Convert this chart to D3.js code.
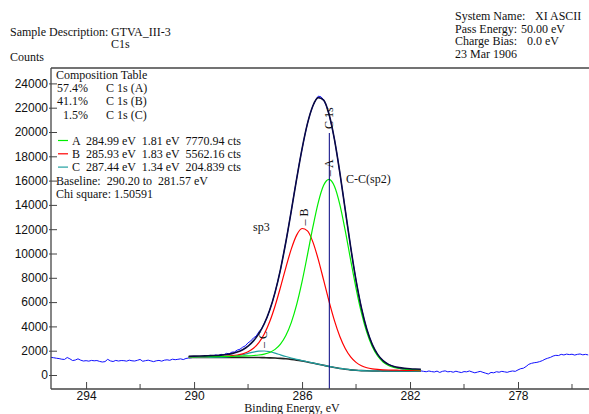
<!DOCTYPE html>
<html>
<head>
<meta charset="utf-8">
<script src="https://cdn.jsdelivr.net/npm/d3@7"></script>
<style>
  body { margin: 0; background: #fff; }
  svg { display: block; font-family: "Liberation Serif", "Times New Roman", serif; font-size: 12px; fill: #111; }
</style>
</head>
<body>
<svg id="chart" width="589" height="414"></svg>
<script>
// raw spectrum, 0.1 eV steps starting at 295.3 eV (binding energy falls to the right)
const rawStart = 295.3;
const rawStep = 0.1;
const rawCounts = [
  1450, 1420, 1380, 1350, 1300, 1280, 1440, 1330, 1190, 1230,
  1330, 1220, 1150, 1180, 1140, 1200, 1170, 1190, 1120, 1070,
  1100, 1290, 1160, 1110, 1200, 1150, 1190, 1180, 1140, 1220,
  1170, 1150, 1210, 1280, 1130, 1180, 1220, 1160, 1100, 1170,
  1200, 1140, 1220, 1250, 1210, 1300, 1260, 1290, 1330, 1270,
  1360, 1400, 1420, 1480, 1440, 1520, 1490, 1560, 1530, 1610,
  1570, 1650, 1600, 1700, 1660, 1780, 1750, 1880, 1900, 2050,
  2120, 2290, 2400, 2650, 2800, 3050, 3200, 3550, 3800, 4250,
  4700, 5330, 6000, 6800, 7700, 8650, 9800, 10950, 12200, 13500,
  14850, 16150, 17450, 18600, 19700, 20700, 21500, 22150, 22600, 22950,
  22900, 22650, 22150, 21450, 20500, 19400, 18100, 16650, 15150, 13600,
  12050, 10550, 9100, 7800, 6600, 5500, 4550, 3750, 3100, 2500,
  2050, 1700, 1400, 1180, 1000, 880, 780, 700, 600, 540,
  500, 470, 430, 420, 380, 390, 350, 340, 300, 270,
  330, 280, 250, 320, 210, 300, 340, 260, 290, 230,
  310, 250, 200, 280, 260, 330, 250, 180, 240, 300,
  220, 150, 80, 210, 180, 270, 230, 300, 260, 220,
  290, 330, 300, 420, 520, 560, 700, 880, 960, 1010,
  1040, 1100, 1180, 1300, 1380, 1450, 1560, 1620, 1600, 1700,
  1650, 1720, 1680, 1710, 1640, 1700, 1730, 1660, 1700, 1650
];

// fitted region, 290.20 to 281.57 eV
const fitEnergy = [
  290.2, 290.0, 289.8, 289.6, 289.4, 289.2, 289.0, 288.8, 288.6, 288.4, 288.2,
  288.0, 287.8, 287.6, 287.4, 287.2, 287.0, 286.8, 286.6, 286.4, 286.2,
  286.0, 285.8, 285.6, 285.4, 285.2, 285.0, 284.8, 284.6, 284.4, 284.2,
  284.0, 283.8, 283.6, 283.4, 283.2, 283.0, 282.8, 282.6, 282.4, 282.2,
  282.0, 281.8, 281.6
];
const baseline = [
  1450, 1450, 1450, 1450, 1450, 1450, 1450, 1450, 1449, 1449, 1448,
  1445, 1442, 1436, 1427, 1413, 1395, 1367, 1332, 1284, 1226,
  1154, 1075, 985, 890, 795, 701, 615, 538, 476, 425,
  388, 361, 344, 333, 327, 323, 321, 321, 320, 320,
  320, 320, 320
];
const peakA = [
  1495, 1499, 1503, 1507, 1512, 1518, 1525, 1532, 1540, 1551, 1564,
  1579, 1604, 1645, 1719, 1856, 2108, 2542, 3248, 4312, 5794,
  7685, 9885, 12162, 14190, 15610, 16101, 15533, 14022, 11881, 9474,
  7136, 5109, 3505, 2341, 1562, 1073, 784, 624, 535, 486,
  456, 437, 423
];
const peakB = [
  1498, 1503, 1508, 1514, 1522, 1531, 1543, 1562, 1591, 1644, 1739,
  1908, 2199, 2669, 3379, 4380, 5680, 7210, 8842, 10358, 11511,
  12058, 11865, 10959, 9521, 7804, 6056, 4474, 3169, 2183, 1492,
  1040, 762, 600, 509, 458, 428, 410, 399, 389, 382,
  376, 371, 367
];
const peakC = [
  1453, 1454, 1454, 1455, 1457, 1461, 1470, 1489, 1525, 1586, 1674,
  1781, 1888, 1962, 1974, 1913, 1799, 1658, 1519, 1393, 1284,
  1184, 1091, 994, 896, 800, 705, 618, 541, 479, 427,
  390, 363, 346, 335, 329, 325, 323, 323, 322, 322,
  322, 322, 322
];
const envelope = [
  1546, 1556, 1565, 1576, 1591, 1610, 1638, 1683, 1758, 1883, 2081,
  2378, 2807, 3404, 4218, 5323, 6797, 8676, 10945, 13495, 16137,
  18619, 20691, 22145, 22827, 22623, 21460, 19395, 16656, 13590, 10543,
  7790, 5512, 3763, 2519, 1695, 1180, 875, 704, 606, 550,
  514, 490, 472
];

// peak labels: name, position, apex counts
const peakNames = ["A", "B", "C"];
const peakPos = [284.99, 285.93, 287.44];
const peakTop = [16101, 12058, 1974];
const peakColors = ["#00ee00", "#ff0000", "#20a0a0"];

const compPercent = ["57.4%", "41.1%", "1.5%"];
const compNames = ["C 1s (A)", "C 1s (B)", "C 1s (C)"];
const peakRows = [
  "A  284.99 eV  1.81 eV  7770.94 cts",
  "B  285.93 eV  1.83 eV  5562.16 cts",
  "C  287.44 eV  1.34 eV  204.839 cts"
];

const yTicks = d3.range(0, 24001, 2000);
const xMajor = [294, 290, 286, 282, 278];
const xMinor = [292, 288, 284, 280, 276];

const svg = d3.select("#chart");
const plotLeft = 51, plotRight = 589, plotTop = 68, plotBottom = 389;

const x = d3.scaleLinear().domain([295.3, 275.37]).range([plotLeft, plotRight]);
const y = d3.scaleLinear().domain([0, 24000]).range([375, 83.4]);

// header
svg.append("text").attr("x", 10).attr("y", 35.5).text("Sample Description:");
svg.append("text").attr("x", 111).attr("y", 35.5).text("GTVA_III-3");
svg.append("text").attr("x", 111).attr("y", 47.5).text("C1s");
svg.append("text").attr("x", 10).attr("y", 60.5).text("Counts");

const info = [
  ["System Name:", "XI ASCII", 535],
  ["Pass Energy:", "50.00 eV", 521],
  ["Charge Bias:", "0.0 eV", 527],
  ["23 Mar 1906", "", 0]
];
info.forEach(function (d, i) {
  svg.append("text").attr("x", 455).attr("y", 20 + i * 12.5).text(d[0]);
  if (d[1]) svg.append("text").attr("x", d[2]).attr("y", 20 + i * 12.5).text(d[1]);
});

// frame
svg.append("line").attr("x1", plotLeft).attr("x2", plotRight).attr("y1", plotTop).attr("y2", plotTop)
  .attr("stroke", "#444").attr("stroke-width", 1.3);

svg.append("clipPath").attr("id", "plotclip")
  .append("rect").attr("x", plotLeft).attr("y", plotTop)
  .attr("width", plotRight - plotLeft).attr("height", plotBottom - plotTop);

const plot = svg.append("g").attr("clip-path", "url(#plotclip)");

const rawLine = d3.line()
  .x(function (d, i) { return x(rawStart - i * rawStep); })
  .y(function (d) { return y(d); });

const fitLine = d3.line()
  .x(function (d, i) { return x(fitEnergy[i]); })
  .y(function (d) { return y(d); })
  .curve(d3.curveMonotoneX);

plot.append("path").datum(rawCounts).attr("d", rawLine)
  .attr("fill", "none").attr("stroke", "#1010ff").attr("stroke-width", 1);

plot.append("path").datum(baseline).attr("d", fitLine)
  .attr("fill", "none").attr("stroke", "#222").attr("stroke-width", 1.6);
plot.append("path").datum(peakC).attr("d", fitLine)
  .attr("fill", "none").attr("stroke", peakColors[2]).attr("stroke-width", 1.2);
plot.append("path").datum(peakB).attr("d", fitLine)
  .attr("fill", "none").attr("stroke", peakColors[1]).attr("stroke-width", 1.2);
plot.append("path").datum(peakA).attr("d", fitLine)
  .attr("fill", "none").attr("stroke", peakColors[0]).attr("stroke-width", 1.2);
plot.append("path").datum(envelope).attr("d", fitLine)
  .attr("fill", "none").attr("stroke", "#0a0a40").attr("stroke-width", 1.6);

// C 1s marker line
plot.append("line")
  .attr("x1", x(peakPos[0])).attr("x2", x(peakPos[0]))
  .attr("y1", 133).attr("y2", plotBottom)
  .attr("stroke", "#000080").attr("stroke-width", 1);
svg.append("text")
  .attr("transform", "translate(" + (x(peakPos[0]) + 4) + ",129) rotate(-90)")
  .text("C 1s");

peakNames.forEach(function (n, i) {
  svg.append("text")
    .attr("transform", "translate(" + (x(peakPos[i]) + 4) + "," + (y(peakTop[i]) - 3) + ") rotate(-90)")
    .text("\u2013 " + n);
});

svg.append("text").attr("x", 346).attr("y", 183).text("C-C(sp2)");
svg.append("text").attr("x", 253).attr("y", 231).text("sp3");

// axes
const yAxis = svg.append("g")
  .attr("transform", "translate(" + plotLeft + ",0)")
  .call(d3.axisLeft(y).tickValues(yTicks).tickFormat(d3.format("d"))
    .tickSizeInner(-6).tickSizeOuter(0).tickPadding(3));
yAxis.select(".domain").remove();
yAxis.selectAll(".tick line").attr("x1", -2).attr("stroke", "#444");
yAxis.selectAll(".tick text").attr("font-family", null).attr("font-size", 12).attr("fill", "#111");
svg.append("line").attr("x1", plotLeft).attr("x2", plotLeft).attr("y1", plotTop).attr("y2", plotBottom)
  .attr("stroke", "#444").attr("stroke-width", 1.3);

const xAxis = svg.append("g")
  .attr("transform", "translate(0," + plotBottom + ")")
  .call(d3.axisBottom(x).tickValues(xMajor).tickSizeInner(-7).tickSizeOuter(0).tickPadding(2));
xAxis.select(".domain").remove();
xAxis.selectAll(".tick line").attr("stroke", "#444");
xAxis.selectAll(".tick text").attr("font-family", null).attr("font-size", 12).attr("fill", "#111");
svg.append("g").selectAll("line").data(xMinor).enter().append("line")
  .attr("x1", function (d) { return x(d); }).attr("x2", function (d) { return x(d); })
  .attr("y1", plotBottom - 5).attr("y2", plotBottom)
  .attr("stroke", "#444");
svg.append("line").attr("x1", plotLeft).attr("x2", plotRight).attr("y1", plotBottom).attr("y2", plotBottom)
  .attr("stroke", "#444").attr("stroke-width", 1.3);

svg.append("text").attr("x", 292).attr("y", 412).attr("text-anchor", "middle")
  .text("Binding Energy, eV");

// composition table
const tbl = svg.append("g");
tbl.append("text").attr("x", 56).attr("y", 78.5).text("Composition Table");
compPercent.forEach(function (p, i) {
  tbl.append("text").attr("x", 88).attr("y", 92 + i * 13.3).attr("text-anchor", "end").text(p);
  tbl.append("text").attr("x", 106).attr("y", 92 + i * 13.3).text(compNames[i]);
});
peakRows.forEach(function (r, i) {
  const by = 144.5 + i * 13.3;
  tbl.append("line").attr("x1", 58).attr("x2", 68).attr("y1", by - 4).attr("y2", by - 4)
    .attr("stroke", peakColors[i]).attr("stroke-width", 1.2);
  tbl.append("text").attr("x", 72).attr("y", by).style("white-space", "pre").text(r);
});
tbl.append("text").attr("x", 56).attr("y", 184.5).style("white-space", "pre")
  .text("Baseline:  290.20 to  281.57 eV");
tbl.append("text").attr("x", 56).attr("y", 197.8).text("Chi square: 1.50591");
</script>
</body>
</html>
